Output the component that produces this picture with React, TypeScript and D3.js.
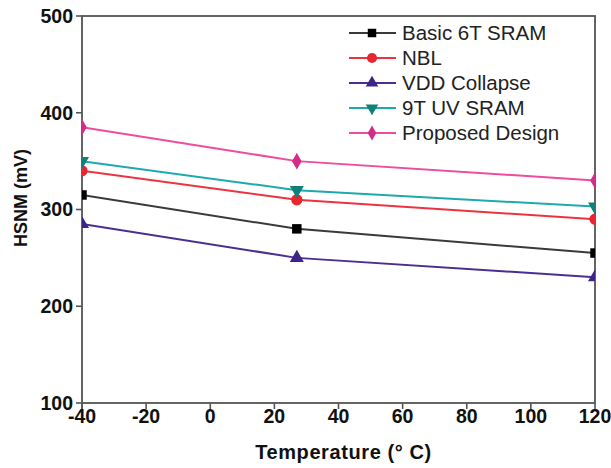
import React from "react";
import * as d3 from "d3";

const temps = [-40, 27, 120];
const basic6T = [315, 280, 255];
const nbl = [340, 310, 290];
const vddCollapse = [285, 250, 230];
const uv9T = [350, 320, 303];
const proposed = [385, 350, 330];

const seriesNames = ["Basic 6T SRAM", "NBL", "VDD Collapse", "9T UV SRAM", "Proposed Design"];
const xTicks = [-40, -20, 0, 20, 40, 60, 80, 100, 120];
const yTicks = [100, 200, 300, 400, 500];

const W = 611;
const H = 468;
const left = 82;
const right = 595;
const top = 16;
const bottom = 403;

const font = "'Liberation Sans', Arial, sans-serif";

const series = [
	{ name: seriesNames[0], values: basic6T, line: "#3a3a3a", fill: "#000000", shape: d3.symbolSquare, size: 90, rot: 0 },
	{ name: seriesNames[1], values: nbl, line: "#ec3340", fill: "#e8262f", shape: d3.symbolCircle, size: 100, rot: 0 },
	{ name: seriesNames[2], values: vddCollapse, line: "#4a2e90", fill: "#3f2487", shape: d3.symbolTriangle, size: 85, rot: 0 },
	{ name: seriesNames[3], values: uv9T, line: "#1ea9ad", fill: "#11807a", shape: d3.symbolTriangle, size: 85, rot: 180 },
	{ name: seriesNames[4], values: proposed, line: "#ee4c9c", fill: "#d22d8a", shape: d3.symbolDiamond, size: 80, rot: 0 },
];

export default function App() {
	const x = d3.scaleLinear().domain([-40, 120]).range([left, right]);
	const y = d3.scaleLinear().domain([100, 500]).range([bottom, top]);
	const line = d3
		.line<number>()
		.x((_, i) => x(temps[i]))
		.y((d) => y(d));

	return (
		<svg width={W} height={H} style={{ position: "absolute", left: 0, top: 0, background: "#fff" }}>
			<defs>
				<clipPath id="plot">
					<rect x={left} y={top} width={right - left} height={bottom - top} />
				</clipPath>
			</defs>

			{/* frame */}
			<rect x={left} y={top} width={right - left} height={bottom - top} fill="none" stroke="#555" strokeWidth={1.8} />

			{/* y axis */}
			{yTicks.map((t) => (
				<g key={"y" + t}>
					<line x1={left - 6} x2={left} y1={y(t)} y2={y(t)} stroke="#555" strokeWidth={1.6} />
					<text x={left - 9} y={y(t)} dy="0.35em" textAnchor="end" fontFamily={font} fontWeight="bold" fontSize={19.5} fill="#111">
						{t}
					</text>
				</g>
			))}
			<line x1={left} x2={left} y1={bottom} y2={bottom + 6} stroke="#555" strokeWidth={1.6} />

			{/* x axis */}
			{xTicks.map((t) => (
				<g key={"x" + t}>
					<line x1={x(t)} x2={x(t)} y1={bottom} y2={bottom + 6} stroke="#555" strokeWidth={1.6} />
					<text x={x(t)} y={423} textAnchor="middle" fontFamily={font} fontWeight="bold" fontSize={19.5} fill="#111">
						{t}
					</text>
				</g>
			))}

			<text x={(left + right) / 2 + 5} y={459} textAnchor="middle" fontFamily={font} fontWeight="bold" fontSize={20} fill="#111" letterSpacing={0.6}>
				Temperature (° C)
			</text>
			<text
				transform={`translate(27,198) rotate(-90)`}
				textAnchor="middle"
				fontFamily={font}
				fontWeight="bold"
				fontSize={18}
				fill="#111"
			>
				HSNM (mV)
			</text>

			{/* series */}
			<g clipPath="url(#plot)">
				{series.map((s) => (
					<g key={s.name}>
						<path d={line(s.values) || ""} fill="none" stroke={s.line} strokeWidth={2} />
						{s.values.map((v, i) => (
							<path
								key={i}
								d={d3.symbol().type(s.shape).size(s.size)() || ""}
								transform={`translate(${x(temps[i])},${y(v)}) rotate(${s.rot})`}
								fill={s.fill}
							/>
						))}
					</g>
				))}
			</g>

			{/* legend */}
			{series.map((s, i) => {
				const ly = 33 + i * 25;
				return (
					<g key={"lg" + s.name}>
						<line x1={349} x2={396} y1={ly} y2={ly} stroke={s.line} strokeWidth={2} />
						<path d={d3.symbol().type(s.shape).size(s.size * 0.8)() || ""} transform={`translate(372,${ly}) rotate(${s.rot})`} fill={s.fill} />
						<text x={402} y={ly} dy="0.35em" fontFamily={font} fontSize={20.5} fill="#222">
							{s.name}
						</text>
					</g>
				);
			})}
		</svg>
	);
}
